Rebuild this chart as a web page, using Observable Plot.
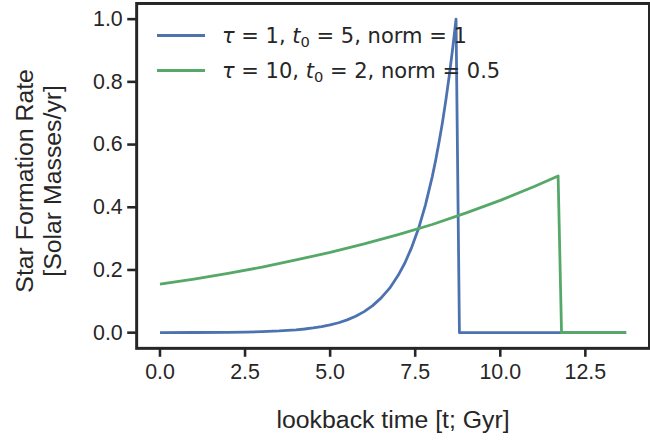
<!DOCTYPE html>
<html>
<head>
<meta charset="utf-8">
<script src="https://cdn.jsdelivr.net/npm/d3@7"></script>
<script src="https://cdn.jsdelivr.net/npm/@observablehq/plot@0.6"></script>
<style>
  html, body { margin: 0; padding: 0; background: #fff; overflow: hidden; }
  #wrap { position: relative; width: 650px; height: 440px; overflow: hidden; }
  #legend { position: absolute; left: 157px; top: 18px; font-family: "DejaVu Sans", sans-serif; font-size: 21px; color: #262626; }
  .row { display: flex; align-items: center; height: 35px; }
  .swatch { width: 48px; height: 0; border-top: 3px solid; margin-right: 17px; }
  .row i { font-style: italic; }
  .row sub { font-size: 0.7em; vertical-align: -0.25em; line-height: 0; }
</style>
</head>
<body>
<div id="wrap"></div>
<script>
// Series 1: tau = 1, t0 = 5, norm = 1 (lookback time in Gyr, SFR in solar masses / yr)
const timeTau1 = [0, 1, 2, 2.5, 3, 3.5, 4, 4.25, 4.5, 4.75, 5, 5.25, 5.5, 5.75, 6, 6.25, 6.5, 6.75, 7, 7.2, 7.4, 7.6, 7.8, 8, 8.1, 8.2, 8.3, 8.4, 8.5, 8.6, 8.7, 8.8, 13.7];
const sfrTau1  = [0.0002, 0.0005, 0.0012, 0.002, 0.0033, 0.0055, 0.0091, 0.0117, 0.015, 0.0193, 0.0247, 0.0317, 0.0408, 0.0523, 0.0672, 0.0863, 0.111, 0.142, 0.183, 0.223, 0.273, 0.333, 0.407, 0.497, 0.549, 0.607, 0.670, 0.741, 0.819, 0.905, 1.0, 0, 0];
// Series 2: tau = 10, t0 = 2, norm = 0.5
const timeTau10 = [0, 1, 2, 3, 4, 5, 6, 7, 8, 9, 10, 11, 11.7, 11.8, 13.7];
const sfrTau10  = [0.155, 0.171, 0.189, 0.209, 0.232, 0.256, 0.283, 0.313, 0.345, 0.382, 0.422, 0.466, 0.5, 0, 0];

const xTicks = [0, 2.5, 5, 7.5, 10, 12.5];
const yTicks = [0, 0.2, 0.4, 0.6, 0.8, 1.0];
const seriesNames = ["τ = 1, t0 = 5, norm = 1", "τ = 10, t0 = 2, norm = 0.5"];
const seriesColors = ["#4c72b0", "#55a868"];
const xLabel = "lookback time [t; Gyr]";
const yLabel = "Star Formation Rate\n[Solar Masses/yr]";

const rows = [];
timeTau1.forEach((t, i) => rows.push({series: seriesNames[0], t, sfr: sfrTau1[i]}));
timeTau10.forEach((t, i) => rows.push({series: seriesNames[1], t, sfr: sfrTau10[i]}));

const ink = "#262626";
const chart = Plot.plot({
  width: 654,
  height: 440,
  marginLeft: 137,
  marginRight: 1,
  marginTop: 3,
  marginBottom: 90,
  style: { fontFamily: "'Liberation Sans', Arial, sans-serif", background: "#fff", color: ink },
  x: { domain: [-0.685, 14.385] },
  y: { domain: [-0.05, 1.05] },
  color: { domain: seriesNames, range: seriesColors },
  marks: [
    Plot.lineY(rows, { x: "t", y: "sfr", stroke: "series", z: "series", strokeWidth: 2.8, strokeLinecap: "butt" }),
    Plot.frame({ stroke: ink, strokeWidth: 3 }),
    Plot.axisX({ ticks: xTicks, tickFormat: d3.format(".1f"), tickSize: 9, tickPadding: 7, strokeWidth: 2.6, stroke: ink, fill: ink, fontSize: 21.5, label: null }),
    Plot.axisY({ ticks: yTicks, tickFormat: d3.format(".1f"), tickSize: 9, tickPadding: 5, strokeWidth: 2.6, stroke: ink, fill: ink, fontSize: 21.5, label: null }),
    Plot.text([xLabel], { frameAnchor: "bottom", dy: 72, fontSize: 25, fill: ink, textAnchor: "middle", lineAnchor: "middle" }),
    Plot.text([yLabel], { frameAnchor: "left", dx: -99, dy: 5, rotate: -90, fontSize: 25, lineHeight: 1.12, fill: ink, textAnchor: "middle", lineAnchor: "middle" })
  ]
});

const wrap = document.getElementById("wrap");
wrap.appendChild(chart);

const legend = document.createElement("div");
legend.id = "legend";
legend.innerHTML = [
  `<div class="row"><span class="swatch" style="border-color:${seriesColors[0]}"></span><span><i>τ</i> = 1, <i>t</i><sub>0</sub> = 5, norm = 1</span></div>`,
  `<div class="row"><span class="swatch" style="border-color:${seriesColors[1]}"></span><span><i>τ</i> = 10, <i>t</i><sub>0</sub> = 2, norm = 0.5</span></div>`
].join("");
wrap.appendChild(legend);
</script>
</body>
</html>
